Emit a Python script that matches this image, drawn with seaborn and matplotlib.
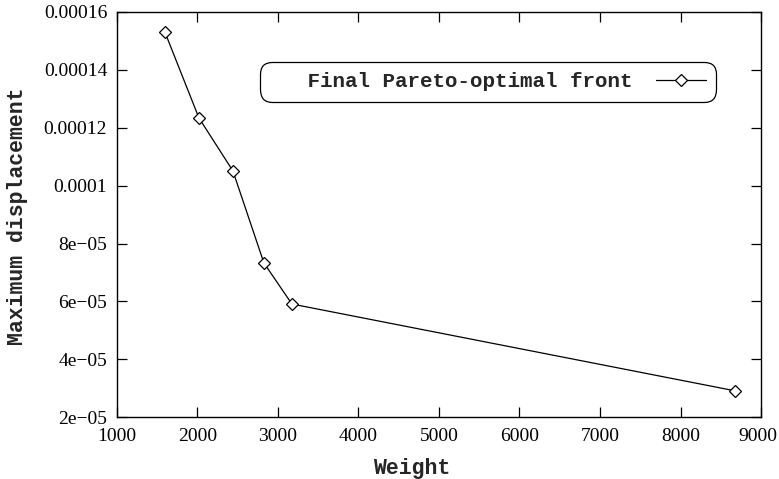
import matplotlib
matplotlib.use("Agg")
import matplotlib.pyplot as plt
import matplotlib.transforms as mtransforms
import seaborn as sns
import pandas as pd

# Pareto front: structural weight vs. maximum displacement
weight = [1596, 2019, 2441, 2826, 3174, 8680]
max_disp = [1.531e-4, 1.234e-4, 1.051e-4, 7.33e-5, 5.91e-5, 2.91e-5]
series_label = "Final Pareto-optimal front"

x_ticks = [1000, 2000, 3000, 4000, 5000, 6000, 7000, 8000, 9000]
y_ticks = [2e-05, 4e-05, 6e-05, 8e-05, 1e-04, 1.2e-04, 1.4e-04, 1.6e-04]
y_tick_labels = ["2e\u221205", "4e\u221205", "6e\u221205", "8e\u221205",
                 "0.0001", "0.00012", "0.00014", "0.00016"]

df = pd.DataFrame({"Weight": weight, "Maximum displacement": max_disp})

sns.set_style("ticks")
plt.rcParams["font.family"] = ["Liberation Serif", "DejaVu Serif"]

fig = plt.figure(figsize=(7.79, 4.79), dpi=100)
ax = fig.add_axes([0.150, 0.129, 0.827, 0.846])

sns.lineplot(data=df, x="Weight", y="Maximum displacement", ax=ax,
             color="black", linewidth=0.9, marker="D", markersize=6,
             markerfacecolor="white", markeredgecolor="black",
             markeredgewidth=0.9, label=series_label, sort=False)

ax.set_xlim(1000, 9000)
ax.set_ylim(2e-05, 1.6e-04)
ax.set_xticks(x_ticks)
ax.set_xticklabels([str(t) for t in x_ticks])
ax.set_yticks(y_ticks)
ax.set_yticklabels(y_tick_labels)

ax.tick_params(direction="in", length=7, width=0.9, top=True, right=True,
               labelsize=14, colors="black")
ax.tick_params(axis="y", pad=7)
ax.tick_params(axis="x", pad=8)
for s in ax.spines.values():
    s.set_visible(True)
    s.set_linewidth(1.0)
    s.set_color("black")

# keep the last x tick label inside the canvas
last = ax.get_xticklabels()[-1]
last.set_transform(last.get_transform() +
                   mtransforms.ScaledTranslation(-3 / 100, 0, fig.dpi_scale_trans))

mono = ["Liberation Mono", "DejaVu Sans Mono"]
label_font = dict(family=mono, weight="bold", size=15.5)
ax.set_xlabel("Weight", fontdict=label_font)
ax.set_ylabel("Maximum displacement", fontdict=label_font)
ax.xaxis.set_label_coords(0.458, -0.101)
ax.yaxis.set_label_coords(-0.138, 0.496)

leg = ax.legend(loc="center", bbox_to_anchor=(0.576, 0.828),
                markerfirst=False, frameon=True, fancybox=True,
                prop=dict(family=mono, weight="bold", size=15),
                handlelength=2.4, borderpad=0.5, borderaxespad=0,
                handletextpad=1.1, edgecolor="black", framealpha=1)
leg.get_texts()[0].set_text("   " + series_label)
leg.get_frame().set_linewidth(0.9)
leg.get_frame().set_boxstyle("round", pad=0.0, rounding_size=0.6)

fig.savefig("out.png", dpi=100)
